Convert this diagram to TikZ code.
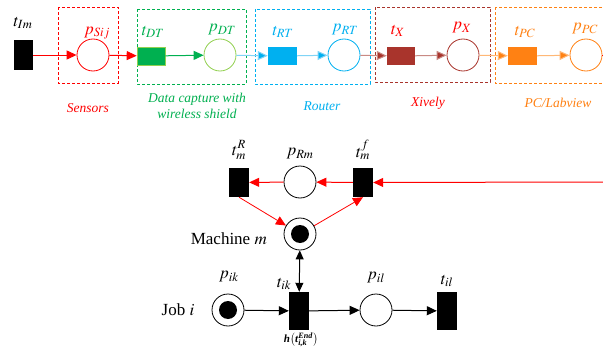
\documentclass[tikz,border=0pt]{standalone}
\usepackage{amsmath}
\usepackage{mathptmx}
\usepackage{fontspec}
\setmainfont{Liberation Serif}
\usetikzlibrary{arrows.meta}
\definecolor{cRed}{HTML}{FF0000}
\definecolor{cGreen}{HTML}{00B050}
\definecolor{cLGreen}{HTML}{92D050}
\definecolor{cCyan}{HTML}{00B0F0}
\definecolor{cLCyan}{HTML}{80D4F6}
\definecolor{cBrown}{HTML}{A9342C}
\definecolor{cLBrown}{HTML}{C98A84}
\definecolor{cOrange}{HTML}{FF8113}
\definecolor{cLOrange}{HTML}{FFB877}
\tikzset{
  place/.style={circle, draw, minimum size=32pt, inner sep=0pt, line width=0.8pt},
  btrans/.style={fill=black, draw=none, minimum width=20pt, inner sep=0pt},
  ttrans/.style={draw=none, minimum width=28pt, minimum height=18pt, inner sep=0pt},
  arr/.style={-{Triangle[length=10pt,width=9pt]}, line width=1pt},
  darr/.style={{Triangle[length=9pt,width=8pt]}-{Triangle[length=9pt,width=8pt]}, line width=1pt},
  grp/.style={dashed, line width=0.8pt, dash pattern=on 3pt off 2pt},
  lab/.style={font=\fontsize{17}{20}\selectfont, inner sep=0pt},
  captxt/.style={font=\fontsize{13.5}{16}\selectfont\itshape, inner sep=0pt, align=center},
  bigtxt/.style={font=\fontsize{17}{20}\selectfont, inner sep=0pt},
}
\begin{document}
\begin{tikzpicture}[x=1pt,y=-1pt]
\clip (0,0) rectangle (603,348);
\fill[white] (0,0) rectangle (603,348);

% ---- group boxes ----
\draw[grp, cRed] (58,7) rectangle (118,83);
\draw[grp, cGreen] (137,9) rectangle (246,84);
\draw[grp, cCyan] (255,9) rectangle (370,84);
\draw[grp, cBrown] (375,7) rectangle (490,82);
\draw[grp, cOrange] (495,7) rectangle (620,83);

% ---- top row ----
\node[btrans, minimum width=19pt, minimum height=30pt] (tIm) at (23.5,55) {};
\node[place, draw=cRed] (pS) at (93,55) {};
\node[ttrans, fill=cGreen, draw=cLGreen, line width=0.6pt] (tDT) at (151,56) {};
\node[place, draw=cLGreen] (pDT) at (220,55) {};
\node[ttrans, fill=cCyan, minimum width=29pt] (tRT) at (282.5,56) {};
\node[place, draw=cCyan] (pRT) at (344,55) {};
\node[ttrans, fill=cBrown] (tX) at (401,56) {};
\node[place, draw=cBrown] (pX) at (463,55) {};
\node[ttrans, fill=cOrange, minimum width=29pt] (tPC) at (522.5,56) {};
\node[place, draw=cOrange] (pPC) at (586,55) {};

\draw[arr, cRed] (tIm) -- (pS);
\draw[arr, cRed] (pS) -- (tDT);
\draw[arr, cGreen] (tDT) -- (pDT);
\draw[arr, cLCyan, -{Triangle[length=10pt,width=9pt,fill=cCyan]}] (pDT) -- (tRT);
\draw[arr, cLCyan, -{Triangle[length=10pt,width=9pt,fill=cCyan]}] (tRT) -- (pRT);
\draw[arr, cLBrown, -{Triangle[length=10pt,width=9pt,fill=cBrown]}] (pRT) -- (tX);
\draw[arr, cLBrown, -{Triangle[length=10pt,width=9pt,fill=cBrown]}] (tX) -- (pX);
\draw[arr, cLOrange, -{Triangle[length=10pt,width=9pt,fill=cOrange]}] (pX) -- (tPC);
\draw[arr, cLOrange, -{Triangle[length=10pt,width=9pt,fill=cOrange]}] (tPC) -- (pPC);
\coordinate (pcout) at (606,55);
\draw[cRed, line width=1pt] (pPC) -- (pcout);

% top labels
\node[lab] (ltIm) at (23,23) {$t_{Im}$};
\node[lab, text=cRed] (lpS) at (97,33) {$p_{Sij}$};
\node[lab, text=cGreen] (ltDT) at (153,32) {$t_{DT}$};
\node[lab, text=cGreen] (lpDT) at (222,30) {$p_{DT}$};
\node[lab, text=cCyan] (ltRT) at (283,32) {$t_{RT}$};
\node[lab, text=cCyan] (lpRT) at (345,30) {$p_{RT}$};
\node[lab, text=cRed] (ltX) at (398,31) {$t_{X}$};
\node[lab, text=cRed] (lpX) at (462,28) {$p_{X}$};
\node[lab, text=cOrange] (ltPC) at (525,32) {$t_{PC}$};
\node[lab, text=cOrange] (lpPC) at (585,29) {$p_{PC}$};

% captions
\node[captxt, text=cRed] (cS) at (88,108) {Sensors};
\node[captxt, text=cGreen] (cD) at (197,106) {Data capture with\\wireless shield};
\node[captxt, text=cCyan] (cR) at (322,106) {Router};
\node[captxt, text=cRed] (cX) at (428,103) {Xively};
\node[captxt, text=cOrange] (cP) at (558,103) {PC/Labview};

% ---- machine part ----
\node[btrans, minimum height=29pt] (tmR) at (239,182.5) {};
\node[place, draw=black] (pRm) at (300,182) {};
\node[btrans, minimum height=29pt] (tmf) at (363,182.5) {};
\node[place, draw=black] (mach) at (300,234) {};
\fill (mach.center) circle (9pt);
\coordinate (redin) at (606,182);

\draw[arr, cRed] (redin) -- (tmf);
\draw[arr, cRed] (tmf) -- (pRm);
\draw[arr, cRed] (pRm) -- (tmR);
\draw[arr, cRed, line width=0.8pt] (tmR.south) -- (mach);
\draw[arr, cRed, line width=0.8pt] (mach) -- (tmf.south);

\node[lab] (ltmR) at (239,150) {$t_m^R$};
\node[lab] (lpRm) at (300,154) {$p_{Rm}$};
\node[lab] (ltmf) at (363,150) {$t_m^f$};
\node[bigtxt, anchor=east] (lmach) at (267,239) {Machine $m$};

% ---- job part ----
\node[place, draw=black] (pik) at (228,310) {};
\fill (pik.center) circle (9pt);
\node[btrans, minimum height=38pt] (tik) at (299,311) {};
\node[place, draw=black] (pil) at (376,310) {};
\node[btrans, minimum height=38pt] (til) at (447,311) {};

\draw[darr] (mach) -- (tik);
\draw[arr] (pik) -- (tik);
\draw[arr] (tik) -- (pil);
\draw[arr] (pil) -- (til);

\node[lab] (lpik) at (229,277) {$p_{ik}$};
\node[lab] (ltik) at (284,284) {$t_{ik}$};
\node[lab] (lpil) at (376,278) {$p_{il}$};
\node[lab] (ltil) at (447,281) {$t_{il}$};
\node[bigtxt] (ljob) at (178,310) {Job $i$};
\node[font=\fontsize{11}{13}\selectfont, inner sep=0pt] (lh) at (301,340)
  {$\textbf{\textit{h}}\bigl(\textbf{\textit{t}}^{\textbf{\textit{End}}}_{\textbf{\textit{i,k}}}\bigr)$};
\end{tikzpicture}
\end{document}
